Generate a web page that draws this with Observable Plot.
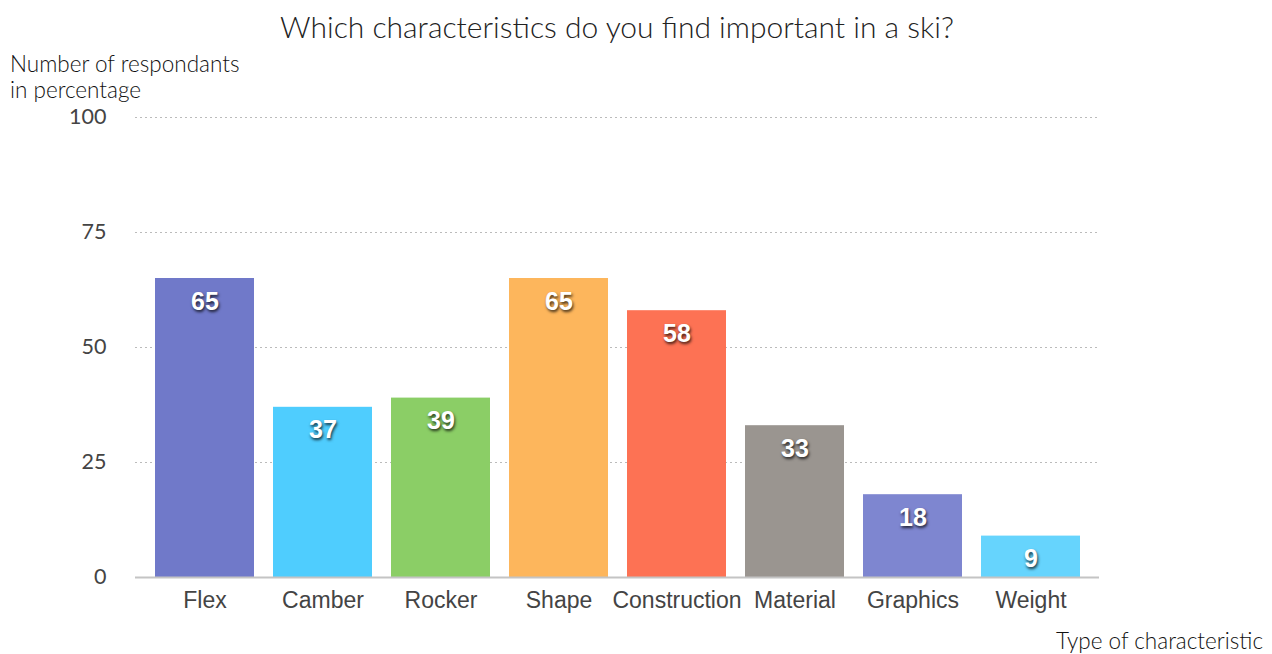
<!DOCTYPE html>
<html>
<head>
<meta charset="utf-8">
<script src="https://cdn.jsdelivr.net/npm/d3@7"></script>
<script src="https://cdn.jsdelivr.net/npm/@observablehq/plot@0.6"></script>
<style>
  body { margin: 0; background: #fff; width: 1272px; height: 654px; overflow: hidden; position: relative; }
  .lbl { position: absolute; font-family: Lato, "Open Sans", sans-serif; color: #333; white-space: nowrap; }
  #title { left: 0; width: 1234px; text-align: center; top: 8px; font-size: 30px; font-weight: 300; color: #222; }
  #ylab { left: 10px; top: 51px; font-size: 22.5px; line-height: 26px; font-weight: 300; color: #111; }
  #xlab { right: 9px; top: 627px; font-size: 22.5px; font-weight: 300; color: #111; }
  .barlabel text { text-shadow: 1px 2px 3px rgba(0,0,0,0.75); }
</style>
</head>
<body>
<div id="title" class="lbl">Which characteristics do you find important in a ski?</div>
<div id="ylab" class="lbl">Number of respondants<br>in percentage</div>
<div id="xlab" class="lbl">Type of characteristic</div>
<div id="chart"></div>
<script>
const categories = ["Flex", "Camber", "Rocker", "Shape", "Construction", "Material", "Graphics", "Weight"];
const values = [65, 37, 39, 65, 58, 33, 18, 9];
const colors = ["#7079C9", "#4FCDFE", "#8BCE66", "#FDB65C", "#FD7254", "#9A9590", "#7E86D0", "#66D4FD"];
const yTicks = [0, 25, 50, 75, 100];

const data = categories.map((c, i) => ({category: c, value: values[i], color: colors[i]}));

const chart = Plot.plot({
  width: 1272,
  height: 654,
  marginLeft: 137,
  marginRight: 173,
  marginTop: 117,
  marginBottom: 77,
  style: {background: "transparent", overflow: "visible"},
  x: {domain: categories, paddingInner: 0.16, paddingOuter: 0.155, label: null},
  y: {domain: [0, 100], label: null},
  marks: [
    Plot.ruleY(yTicks.filter(d => d > 0), {stroke: "#bbb", strokeDasharray: "2,3", strokeWidth: 1.2, insetLeft: -2, insetRight: 0}),
    Plot.barY(data, {x: "category", y: "value", fill: "color"}),
    Plot.ruleY([0], {stroke: "#c4c4c4", strokeWidth: 2, insetLeft: -2, insetRight: 0}),
    Plot.axisY({ticks: yTicks, tickSize: 0, tickPadding: 31, fontSize: 21.5, fontWeight: 400, fontFamily: "Lato, sans-serif", fill: "#444", label: null}),
    Plot.axisX({tickSize: 0, tickPadding: 14, fontSize: 23, fontFamily: "Liberation Sans, Arial, sans-serif", fill: "#444", label: null}),
    Plot.text(data, {x: "category", y: "value", text: d => String(d.value), dy: 23, fill: "white", fontSize: 25, fontWeight: "bold", fontFamily: "Liberation Sans, Arial, sans-serif", className: "barlabel"})
  ]
});
document.getElementById("chart").appendChild(chart);
</script>
</body>
</html>
